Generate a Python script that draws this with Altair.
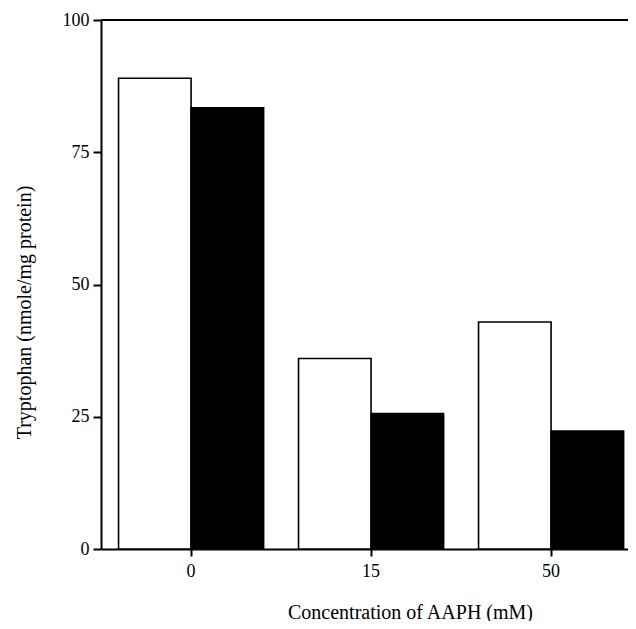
import altair as alt
import pandas as pd

concentrations = ["0", "15", "50"]
open_bars = [89.0, 36.0, 42.9]
filled_bars = [83.4, 25.6, 22.3]
series_names = ["Open", "Filled"]
y_ticks = [0, 25, 50, 75, 100]

rows = []
for c, a, b in zip(concentrations, open_bars, filled_bars):
    rows.append({"conc": c, "series": series_names[0], "value": a})
    rows.append({"conc": c, "series": series_names[1], "value": b})
df = pd.DataFrame(rows)

FONT = "Liberation Serif"

bars = alt.Chart(df).mark_bar(stroke="black", strokeWidth=1.6).encode(
    x=alt.X("conc:N", sort=concentrations,
            scale=alt.Scale(paddingInner=0.194, paddingOuter=0.0609, align=0.8),
            axis=alt.Axis(title="Concentration of AAPH (mM)", labelAngle=0,
                          labelFont=FONT, labelFontSize=18, labelColor="black",
                          labelPadding=6, tickSize=7, tickWidth=2, tickColor="black",
                          domainColor="black", domainWidth=2,
                          titleFont=FONT, titleFontSize=20, titleFontWeight="normal",
                          titleColor="black", titleX=309, titleY=63,
                          titleBaseline="middle", titleAlign="center", grid=False)),
    xOffset=alt.XOffset("series:N", sort=series_names),
    y=alt.Y("value:Q",
            scale=alt.Scale(domain=[0, 100], nice=False),
            axis=alt.Axis(title="Tryptophan (nmole/mg protein)", values=y_ticks,
                          labelFont=FONT, labelFontSize=18, labelColor="black",
                          labelPadding=4, tickSize=8, tickWidth=2, tickColor="black",
                          domainColor="black", domainWidth=2,
                          titleFont=FONT, titleFontSize=20, titleFontWeight="normal",
                          titleColor="black", titleX=-77, titleY=292, titleAngle=270,
                          titleBaseline="middle", titleAlign="center", grid=False)),
    fill=alt.Fill("series:N", sort=series_names,
                  scale=alt.Scale(domain=series_names, range=["white", "black"]),
                  legend=None),
)

top_line = alt.Chart(pd.DataFrame({"v": [100]})).mark_rule(
    color="black", strokeWidth=2).encode(y=alt.Y("v:Q"))

chart = alt.layer(bars, top_line).properties(
    width=527, height=529,
    autosize=alt.AutoSizeParams(type="none"),
    padding={"left": 93, "top": 12, "right": 0, "bottom": 72},
).configure_view(stroke=None).configure(background="white")

chart.save("out.html", embed_options={"renderer": "svg", "actions": False})
